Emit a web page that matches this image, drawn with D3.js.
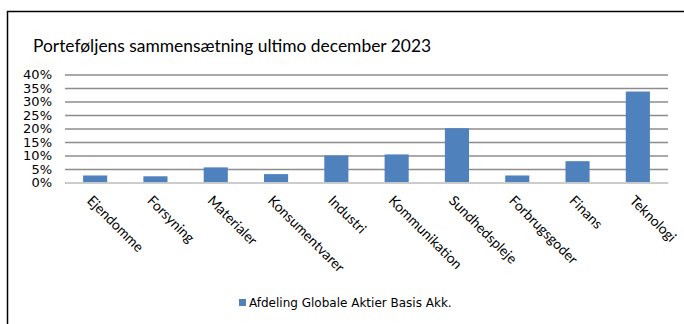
<!DOCTYPE html>
<html><head><meta charset="utf-8">
<script src="https://cdn.jsdelivr.net/npm/d3@7"></script>
<style>body{margin:0;background:#fff}svg{display:block}</style>
</head><body>
<svg id="c" width="684" height="324"></svg>
<script>
const title = "Porteføljens sammensætning ultimo december 2023";
const categories = ["Ejendomme","Forsyning","Materialer","Konsumentvarer","Industri","Kommunikation","Sundhedspleje","Forbrugsgoder","Finans","Teknologi"];
const values = [2.6, 2.3, 5.6, 3.1, 10.0, 10.4, 20.1, 2.6, 7.9, 33.7];
const yTicks = [0,5,10,15,20,25,30,35,40];
const seriesName = "Afdeling Globale Aktier Basis Akk.";

const svg = d3.select("#c");
// frame
svg.append("path").attr("d","M7.5,324 V11.5 H684").attr("fill","none").attr("stroke","#000").attr("stroke-width",1.5);

svg.append("text").attr("x",33).attr("y",52).attr("font-family","Lato, sans-serif").attr("font-size",17.4).attr("fill","#000").text(title);

const x = d3.scaleBand().domain(categories).range([65,668]).paddingInner(0.6).paddingOuter(0.3);
const y = d3.scaleLinear().domain([0,40]).range([182.5,74.5]);

const gy = svg.append("g").attr("transform","translate(65,0)")
  .call(d3.axisLeft(y).tickValues(yTicks).tickSize(-603).tickFormat(d=>d+"%"));
gy.select(".domain").remove();
gy.selectAll(".tick line").attr("stroke","#8c8c8c").attr("stroke-width",1.5);
gy.selectAll(".tick text").attr("x",-13).attr("font-family","DejaVu Sans, Verdana, sans-serif").attr("font-size",13).attr("fill","#000");

svg.append("g").selectAll("rect").data(values).join("rect")
  .attr("x",(d,i)=>x(categories[i])).attr("width",x.bandwidth())
  .attr("y",d=>y(d)).attr("height",d=>y(0)-y(d)).attr("fill","#4f81bd");

const gx = svg.append("g").attr("transform",`translate(0,${y(0)})`)
  .call(d3.axisBottom(x).tickSize(0));
gx.select(".domain").attr("stroke","#d9d9d9").attr("stroke-width",1.5);
gx.selectAll(".tick text").attr("font-family","Lato, sans-serif").attr("font-size",14).attr("fill","#000")
  .attr("text-anchor","start").attr("dy",0).attr("y",0)
  .attr("transform","translate(-9,19) rotate(45)");

const lg = svg.append("g");
lg.append("rect").attr("x",239).attr("y",299).attr("width",7).attr("height",7).attr("fill","#4f81bd");
lg.append("text").attr("x",249).attr("y",307).attr("font-family","DejaVu Sans, Verdana, sans-serif").attr("font-size",12).attr("fill","#000").text(seriesName);
</script>
</body></html>
